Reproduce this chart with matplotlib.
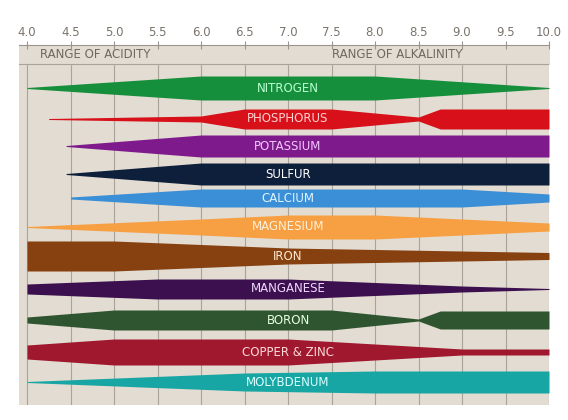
import matplotlib
matplotlib.use("Agg")
import matplotlib.pyplot as plt
import numpy as np

ticks = [4.0, 4.5, 5.0, 5.5, 6.0, 6.5, 7.0, 7.5, 8.0, 8.5, 9.0, 9.5, 10.0]
tick_labels = ["4.0", "4.5", "5.0", "5.5", "6.0", "6.5", "7.0", "7.5", "8.0", "8.5", "9.0", "9.5", "10.0"]

nutrients = ["NITROGEN", "PHOSPHORUS", "POTASSIUM", "SULFUR", "CALCIUM", "MAGNESIUM",
             "IRON", "MANGANESE", "BORON", "COPPER & ZINC", "MOLYBDENUM"]
centers = [88, 119, 146, 174, 198, 227, 256, 289, 320, 352, 382]
# (pH, half-width) profiles
profiles = [
    [(4.0, 0.5), (6.0, 12), (8.0, 12), (10.0, 0.5)],
    [(4.25, 0.5), (6.0, 3), (6.5, 10), (7.5, 10), (8.5, 2), (8.75, 10), (10.0, 10)],
    [(4.45, 0.5), (6.0, 11), (10.0, 11)],
    [(4.45, 0.5), (6.0, 11), (10.0, 11)],
    [(4.5, 1), (6.0, 9), (9.0, 9), (10.0, 4)],
    [(4.0, 0.5), (6.0, 8), (7.0, 12), (8.0, 12), (10.0, 4)],
    [(4.0, 15), (5.0, 15), (7.0, 8), (10.0, 3.5)],
    [(4.0, 5), (5.5, 10), (7.0, 10), (9.0, 3), (10.0, 0.5)],
    [(4.0, 3), (5.0, 10), (7.5, 10), (8.5, 1), (8.75, 9), (10.0, 9)],
    [(4.0, 7), (5.0, 13), (7.0, 13), (9.0, 3), (10.0, 3)],
    [(4.0, 0.5), (6.5, 9), (8.0, 11), (10.0, 11)],
]
colors = ["#168f3c", "#d8101a", "#7e1a8c", "#0e1f3b", "#3b8fd6", "#f7a043",
          "#874010", "#3c104f", "#2f5530", "#a0182e", "#17a6a3"]
text_colors = ["#b8ffd0", "#ffd0d0", "#f4c8ff", "#ffffff", "#e0f4ff", "#fff0d8",
               "#ffe8d0", "#f0d8ff", "#e8ffe0", "#ffd8d8", "#d8ffff"]

W, H = 568, 420
fig = plt.figure(figsize=(W/100, H/100), dpi=100)
fig.patch.set_facecolor("white")
L, R, T, B = 19, 549, 45, 405
ax = fig.add_axes([L/W, 1-B/H, (R-L)/W, (B-T)/H])
ax.set_facecolor("#e3dcd2")
px = 87.0
ax.set_xlim(4.0 - 8/px, 10.0)
ax.set_ylim(B, T)
for s in ax.spines.values():
    s.set_visible(False)
ax.spines["top"].set_visible(True)
ax.spines["top"].set_color("#9a948c")
ax.xaxis.tick_top()
ax.set_xticks(ticks)
ax.set_xticklabels(tick_labels, color="#7a746c", fontsize=8.5)
ax.tick_params(axis="x", length=6, color="#9a948c", pad=1, direction="inout")
ax.set_yticks([])
for t in ticks:
    ax.axvline(t, color="#aaa39a", lw=0.8, zorder=0)
ax.axhline(64, color="#aaa39a", lw=0.8, zorder=1)
ax.fill_between([4.0 - 8/px, 10.0], 45, 64, color="#e3dcd2", zorder=0.5)
ax.text(4.15, 55, "RANGE OF ACIDITY", color="#6e6860", fontsize=8.5, va="center")
ax.text(7.5, 55, "RANGE OF ALKALINITY", color="#6e6860", fontsize=8.5, va="center")

for name, c, prof, col, tc in zip(nutrients, centers, profiles, colors, text_colors):
    xs = np.array([p[0] for p in prof])
    hw = np.array([p[1] for p in prof])
    ax.fill_between(xs, c - hw, c + hw, color=col, lw=0, zorder=2)
    ax.text(7.0, c, name, color=tc, fontsize=8.5, ha="center", va="center", zorder=3)

fig.savefig("out.png", dpi=100)
